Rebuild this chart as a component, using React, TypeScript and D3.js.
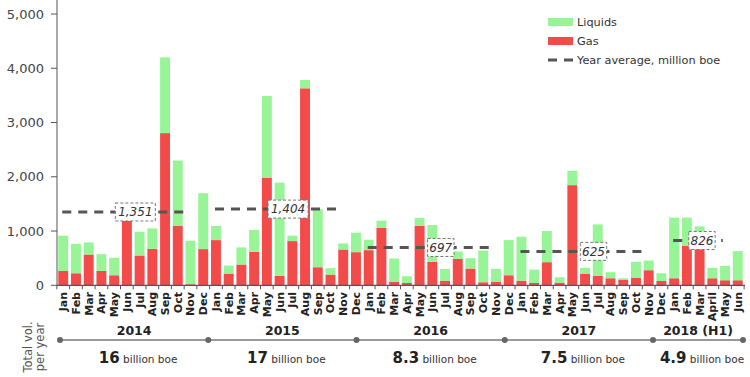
import React from "react";
import * as d3 from "d3";

const monthLabels = [
  "Jan","Feb","Mar","Apr","May","Jun","Jul","Aug","Sep","Oct","Nov","Dec",
  "Jan","Feb","Mar","Apr","May","Jun","Jul","Aug","Sep","Oct","Nov","Dec",
  "Jan","Feb","Mar","Apr","May","Jun","Jul","Aug","Sep","Oct","Nov","Dec",
  "Jan","Feb","Mar","Apr","May","Jun","Jul","Aug","Sep","Oct","Nov","Dec",
  "Jan","Feb","Mar","April","May","Jun",
];

const gasValues = [
  264, 222, 568, 265, 185, 1222, 549, 673, 2805, 1099, 20, 667,
  833, 216, 383, 617, 1985, 173, 815, 3630, 333, 198, 660, 611,
  648, 1056, 68, 43, 1099, 432, 86, 488, 309, 56, 68, 185,
  86, 43, 426, 49, 1846, 210, 173, 130, 105, 142, 278, 80,
  130, 724, 680, 130, 93, 93,
];

const liquidsValues = [
  650, 543, 222, 309, 321, 0, 439, 376, 1395, 1201, 801, 1031,
  260, 148, 315, 402, 1503, 1720, 99, 155, 1068, 117, 112, 358,
  192, 135, 426, 124, 142, 679, 216, 135, 191, 586, 234, 648,
  809, 247, 574, 99, 265, 111, 950, 111, 25, 290, 179, 142,
  1117, 523, 406, 191, 265, 537,
];

const yearLabels = ["2014", "2015", "2016", "2017", "2018 (H1)"];
const yearStartIdx = [0, 12, 24, 36, 48];
const yearEndIdx = [11, 23, 35, 47, 53];
const yearAverages = [1351, 1404, 697, 625, 826];
const yearTotals = ["16", "17", "8.3", "7.5", "4.9"];
const yTicks = [0, 1000, 2000, 3000, 4000, 5000];

const GREEN = "#97f597";
const RED = "#f34a4a";
const FONT = "'DejaVu Sans', Verdana, sans-serif";

export default function App() {
  const W = 750, H = 377;
  const idx = d3.range(monthLabels.length);
  const x = d3.scaleBand<number>().domain(idx).range([57, 744]).paddingInner(0.22).paddingOuter(0.1);
  const y = d3.scaleLinear().domain([0, 5000]).range([285.3, 14]);
  const bw = x.bandwidth();
  const gap = x.step() - bw;

  const rows = idx.map((i) => ({ i, gas: gasValues[i], liquids: liquidsValues[i] }));
  const stack = d3.stack<any>().keys(["gas", "liquids"]);
  const series = stack(rows);
  const colors: Record<string, string> = { gas: RED, liquids: GREEN };

  const fmt = d3.format(",");
  const tl = d3.scaleLinear().domain([2014, 2018]).range([60, 653]);
  const dots = [tl(2014), tl(2015), tl(2016), tl(2017), tl(2018), 743];
  const base = y(0);

  return (
    <svg width={W} height={H} style={{ position: "absolute", left: 0, top: 0, fontFamily: FONT }}>
      <rect width={W} height={H} fill="#fff" />
      {/* bars */}
      {series.map((s) => (
        <g key={s.key} fill={colors[s.key]}>
          {s.map((d, j) => (
            <rect key={j} x={x(j)} y={y(d[1])} width={bw} height={Math.max(0, y(d[0]) - y(d[1]))} />
          ))}
        </g>
      ))}
      {/* y axis */}
      <line x1={57} x2={57} y1={0} y2={base} stroke="#555" strokeWidth={1} />
      {yTicks.map((t) => (
        <g key={t}>
          <line x1={51} x2={57} y1={y(t)} y2={y(t)} stroke="#555" />
          <text x={44} y={y(t)} dy="0.35em" textAnchor="end" fontSize={13} fill="#444">
            {fmt(t)}
          </text>
        </g>
      ))}
      {/* x axis */}
      <line x1={57} x2={745} y1={base} y2={base} stroke="#555" strokeWidth={1.2} />
      {[...idx, idx.length].map((i) => {
        const xx = i < idx.length ? (x(i) as number) - gap / 2 : (x(idx.length - 1) as number) + bw + gap / 2;
        return <line key={i} x1={xx} x2={xx} y1={base} y2={base + 4} stroke="#555" />;
      })}
      {monthLabels.map((m, i) => (
        <text
          key={i}
          transform={`translate(${(x(i) as number) + bw / 2},292) rotate(-90)`}
          dy="0.36em"
          textAnchor="end"
          fontSize={11}
          fontWeight="bold"
          fill="#222"
        >
          {m}
        </text>
      ))}
      {/* averages */}
      {yearAverages.map((v, k) => {
        const x1 = (x(yearStartIdx[k]) as number) + 4;
        const x2 = (x(yearEndIdx[k]) as number) - 10;
        const cx = x1 + 0.58 * (x2 - x1);
        const label = fmt(v);
        const bwid = label.length * 6.8 + 6;
        const yy = y(v);
        return (
          <g key={k}>
            <line x1={x1} x2={x2} y1={yy} y2={yy} stroke="#555" strokeWidth={3} strokeDasharray="9,7" />
            <rect x={cx - bwid / 2} y={yy - 9} width={bwid} height={18} fill="#fff" stroke="#777" strokeWidth={1} strokeDasharray="3,2" />
            <text x={cx} y={yy} dy="0.36em" textAnchor="middle" fontSize={12} fontStyle="italic" fill="#333">
              {label}
            </text>
          </g>
        );
      })}
      {/* legend */}
      <g fontSize={11.3} fill="#333">
        <rect x={548} y={18} width={25} height={8} fill={GREEN} />
        <text x={577} y={22} dy="0.36em">Liquids</text>
        <rect x={548} y={37} width={25} height={8} fill={RED} />
        <text x={577} y={41} dy="0.36em">Gas</text>
        <line x1={548} x2={573} y1={60} y2={60} stroke="#555" strokeWidth={3} strokeDasharray="9,7" />
        <text x={577} y={60} dy="0.36em">Year average, million boe</text>
      </g>
      {/* bottom timeline */}
      <g fill="#555" fontSize={11.5}>
        <text transform="translate(32,347) rotate(-90)" textAnchor="middle">Total vol.</text>
        <text transform="translate(43.5,347) rotate(-90)" textAnchor="middle">per year</text>
      </g>
      <line x1={dots[0]} x2={dots[dots.length - 1]} y1={340} y2={340} stroke="#777" strokeWidth={1.6} />
      {dots.map((d, i) => (
        <circle key={i} cx={d} cy={340} r={3} fill="#666" />
      ))}
      {yearLabels.map((yl, k) => {
        const cx = (dots[k] + dots[k + 1]) / 2;
        return (
          <g key={yl}>
            <text x={cx} y={335} textAnchor="middle" fontSize={12.5} fontWeight="bold" fill="#222">
              {yl}
            </text>
            <text x={cx + 4} y={363} textAnchor="middle" fill="#222">
              <tspan fontSize={15} fontWeight="bold">{yearTotals[k]}</tspan>
              <tspan fontSize={10.5} fill="#333">{" billion boe"}</tspan>
            </text>
          </g>
        );
      })}
    </svg>
  );
}
